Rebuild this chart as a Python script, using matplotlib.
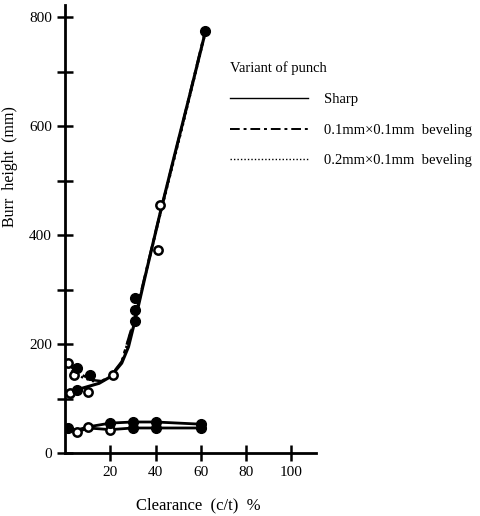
import matplotlib.pyplot as plt
from matplotlib.lines import Line2D
from matplotlib.ticker import MultipleLocator

plt.rcParams['font.family'] = ['Liberation Serif', 'DejaVu Serif']

# large-burr curves
sharp_x = [1, 5, 10, 15, 20, 25, 28, 31, 36, 42, 48, 55, 62]
sharp_y = [108, 116, 122, 128, 140, 165, 195, 245, 335, 440, 540, 655, 772]
bev1_x = [1, 4, 8, 12, 16, 20, 25, 31, 42, 52, 62]
bev1_y = [166, 152, 142, 134, 132, 141, 168, 252, 440, 605, 775]
bev2_x = [1, 4, 8, 12, 16, 20, 25, 31, 42, 52, 62]
bev2_y = [160, 146, 138, 132, 131, 140, 167, 250, 436, 600, 770]

# small-burr curves
low_x = [1, 5, 10, 20, 30, 40, 60]
low_a = [47, 42, 48, 55, 57, 57, 53]
low_b = [45, 38, 46, 43, 46, 46, 46]

# measured points
open_x = [1, 4, 2, 10, 21, 42, 41, 5, 10, 20]
open_y = [166, 143, 110, 112, 143, 455, 372, 38, 48, 42]
filled_x = [5, 11, 5, 31, 31, 31, 62, 1, 20, 30, 30, 40, 40, 60, 60]
filled_y = [156, 143, 116, 285, 262, 242, 775, 46, 55, 57, 46, 57, 46, 53, 46]

legend_labels = ['Sharp', '0.1mm\u00d70.1mm  beveling', '0.2mm\u00d70.1mm  beveling']

fig = plt.figure(figsize=(4.8, 5.16), dpi=100)
ax = fig.add_axes([0.136, 0.122, 0.522, 0.868])

ax.plot(sharp_x, sharp_y, '-', c='k', lw=2.2)
ax.plot(bev1_x, bev1_y, c='k', lw=1.8, dashes=(6, 2, 1.5, 2))
ax.plot(bev2_x, bev2_y, ':', c='k', lw=1.6)
ax.plot(low_x, low_a, '-', c='k', lw=2)
ax.plot(low_x, low_b, '-', c='k', lw=2)
ax.plot(open_x, open_y, 'o', ms=6, mfc='white', mec='k', mew=1.8, ls='none')
ax.plot(filled_x, filled_y, 'o', ms=7, c='k', ls='none')

ax.set_xlim(0, 111)
ax.set_ylim(0, 822)
ax.set_xticks([20, 40, 60, 80, 100])
ax.set_yticks([0, 200, 400, 600, 800])
ax.yaxis.set_minor_locator(MultipleLocator(100))
for s in ['top', 'right']:
    ax.spines[s].set_visible(False)
for s in ['left', 'bottom']:
    ax.spines[s].set_linewidth(2)
ax.tick_params(which='major', direction='inout', length=12, width=1.8, labelsize=11)
ax.tick_params(which='minor', direction='inout', length=12, width=1.8)

ax.set_xlabel('Clearance  (c/t)  %', size=12, labelpad=14)
ax.xaxis.set_label_coords(0.53, -0.1)
ax.set_ylabel('Burr  height  (mm)', size=11.5)
ax.yaxis.set_label_coords(-0.19, 0.64)

handles = [Line2D([], [], c='k', lw=1),
           Line2D([], [], c='k', lw=1.4, dashes=(5, 2, 1.5, 2)),
           Line2D([], [], c='k', lw=1, ls=(0, (1, 1.5)))]
leg = fig.legend(handles, legend_labels, title='Variant of punch',
                 loc='upper left', bbox_to_anchor=(0.465, 0.895),
                 frameon=False, fontsize=10.5, title_fontsize=10.5,
                 alignment='left', handlelength=5.3, handletextpad=1.1,
                 labelspacing=1.2, borderpad=0)

fig.savefig('out.png', dpi=100)
